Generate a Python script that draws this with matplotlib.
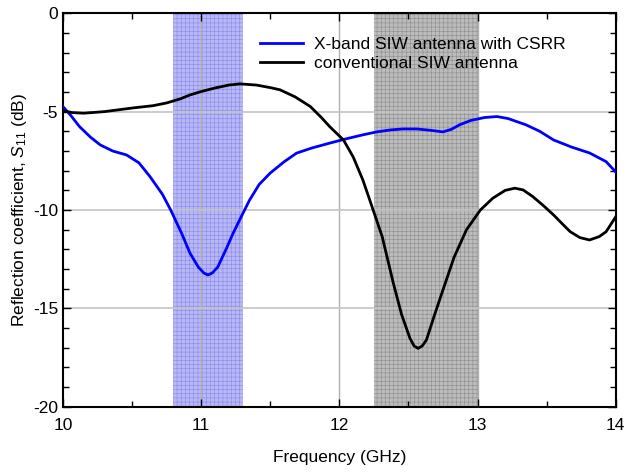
import matplotlib
matplotlib.use("Agg")
import matplotlib.pyplot as plt
import numpy as np

plt.rcParams['font.family'] = ['Liberation Sans', 'DejaVu Sans']
plt.rcParams['mathtext.fontset'] = 'custom'
plt.rcParams['mathtext.rm'] = 'Liberation Sans'
plt.rcParams['mathtext.it'] = 'Liberation Sans:italic'
plt.rcParams['axes.unicode_minus'] = False
plt.rcParams['hatch.linewidth'] = 0.4

# X-band SIW antenna with CSRR (blue)
f_csrr = [10.00, 10.06, 10.12, 10.20, 10.27, 10.36, 10.46, 10.55, 10.63, 10.72, 10.78,
          10.86, 10.92, 10.98, 11.02, 11.05, 11.08, 11.12, 11.18, 11.23, 11.30, 11.35, 11.42,
          11.50, 11.60, 11.69, 11.80, 11.93, 12.05, 12.17, 12.27, 12.37, 12.46,
          12.56, 12.66, 12.75, 12.81, 12.87, 12.95, 13.05, 13.14, 13.22, 13.35,
          13.45, 13.55, 13.68, 13.81, 13.93, 14.00]
s11_csrr = [-4.74, -5.22, -5.76, -6.30, -6.69, -7.00, -7.20, -7.60, -8.30, -9.20, -10.0,
            -11.2, -12.2, -12.9, -13.2, -13.3, -13.2, -12.9, -12.0, -11.2, -10.2, -9.50, -8.70,
            -8.12, -7.55, -7.11, -6.85, -6.60, -6.38, -6.18, -6.03, -5.93, -5.88,
            -5.88, -5.95, -6.03, -5.90, -5.67, -5.45, -5.30, -5.25, -5.35, -5.67,
            -6.00, -6.44, -6.80, -7.10, -7.54, -8.07]

# conventional SIW antenna (black)
f_conv = [10.00, 10.07, 10.15, 10.30, 10.51, 10.65, 10.75, 10.85, 10.92, 11.00,
          11.10, 11.20, 11.28, 11.40, 11.50, 11.57, 11.68, 11.79, 11.87, 11.93,
          12.03, 12.10, 12.17, 12.22, 12.31, 12.39, 12.45, 12.51, 12.54, 12.57, 12.60, 12.63,
          12.69, 12.75, 12.83, 12.92, 13.02, 13.11, 13.20, 13.27, 13.33, 13.40,
          13.48, 13.55, 13.62, 13.67, 13.74, 13.81, 13.88, 13.93, 14.00]
s11_conv = [-4.96, -5.05, -5.08, -5.00, -4.81, -4.70, -4.56, -4.35, -4.15, -3.98,
            -3.80, -3.65, -3.59, -3.65, -3.78, -3.89, -4.25, -4.74, -5.30, -5.76,
            -6.44, -7.30, -8.47, -9.49, -11.35, -13.7, -15.3, -16.5, -16.9, -17.03, -16.9, -16.6,
            -15.3, -14.05, -12.4, -11.0, -10.0, -9.40, -9.00, -8.89, -8.98, -9.32,
            -9.80, -10.25, -10.75, -11.1, -11.4, -11.52, -11.35, -11.1, -10.34]

band_csrr = (10.8, 11.3)
band_conv = (12.25, 13.0)

fig = plt.figure(figsize=(6.29, 4.72), dpi=100)
ax = fig.add_axes([0.100, 0.138, 0.879, 0.834])

ax.axvspan(*band_csrr, facecolor='#b8b8f4', edgecolor='#8888ee', hatch='++++', lw=0, zorder=0)
ax.axvspan(*band_conv, facecolor='#bcbcbc', edgecolor='#8c8c8c', hatch='++++', lw=0, zorder=0)

for v in [11, 12, 13]:
    ax.axvline(v, color='#b0b0b0', lw=1, zorder=1)
for v in [-5, -10, -15]:
    ax.axhline(v, color='#c4c4c4', lw=1.2, zorder=1)

ax.plot(f_csrr, s11_csrr, color='#0000ff', lw=2, label='X-band SIW antenna with CSRR', zorder=3)
ax.plot(f_conv, s11_conv, color='black', lw=2, label='conventional SIW antenna', zorder=3)

ax.set_xlim(10, 14)
ax.set_ylim(-20, 0)
ax.set_xticks([10, 11, 12, 13, 14])
ax.set_xticks(np.arange(10, 14.01, 0.5), minor=True)
ax.set_yticks([-20, -15, -10, -5, 0])
ax.set_yticks(np.arange(-20, 0.01, 1), minor=True)
ax.tick_params(which='both', direction='in', top=True, right=True, labelsize=12.5)
ax.tick_params(which='major', length=6, width=1)
ax.tick_params(which='minor', length=4, width=1)
ax.tick_params(axis='x', which='major', pad=8)
for sp in ax.spines.values():
    sp.set_linewidth(1.5)

ax.set_xlabel('Frequency (GHz)', fontsize=12.5, labelpad=12)
ax.set_ylabel('Reflection coefficient, $S_{11}$ (dB)', fontsize=12.5, labelpad=3)

ax.legend(loc='upper left', bbox_to_anchor=(0.356, 0.94), frameon=False, fontsize=12.5,
          handlelength=2.5, handletextpad=0.6, labelspacing=0.2, borderpad=0, borderaxespad=0)

fig.savefig('out.png', dpi=100)
